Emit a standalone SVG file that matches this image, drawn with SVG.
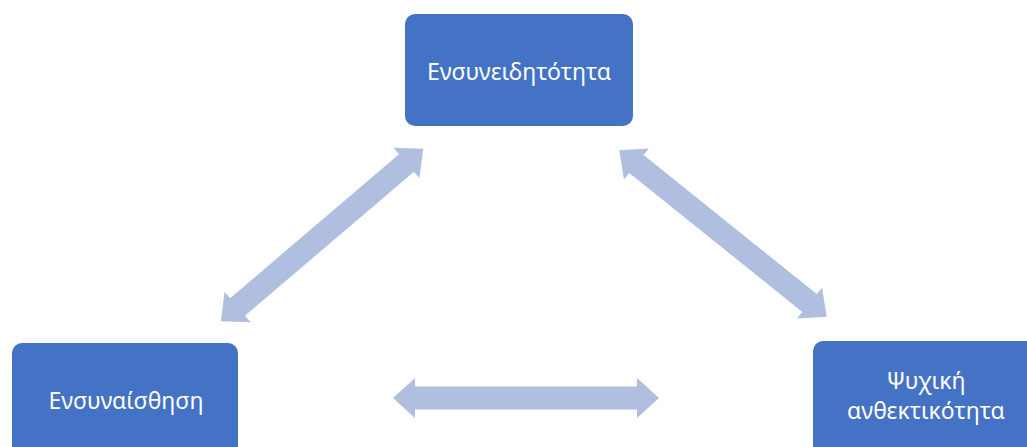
<svg xmlns="http://www.w3.org/2000/svg" width="1027" height="447" viewBox="0 0 1027 447">
<style>
.box{fill:#4472C4;}
.lbl{fill:#ffffff;font-family:"Noto Sans","Open Sans",sans-serif;font-size:23px;text-anchor:middle;}
.arr{fill:#B0BEE0;}
</style>
<defs>
<polygon id="dbl" points="-133,0 -111,-20 -111,-11.5 111,-11.5 111,-20 133,0 111,20 111,11.5 -111,11.5 -111,20"/>
</defs>
<rect width="1027" height="447" fill="#ffffff"/>
<g id="connectors" class="arr">
<use href="#dbl" transform="translate(322,235) rotate(-40.46)"/>
<use href="#dbl" transform="translate(723,233.5) rotate(38.76)"/>
<use href="#dbl" transform="translate(526,398)"/>
</g>
<g id="node-top">
<rect class="box" x="405" y="14" width="228" height="112" rx="10"/>
<text class="lbl" x="519" y="80">Ενσυνειδητότητα</text>
</g>
<g id="node-left">
<rect class="box" x="12" y="343" width="226" height="120" rx="10"/>
<text class="lbl" x="126" y="409">Ενσυναίσθηση</text>
</g>
<g id="node-right">
<rect class="box" x="813" y="341" width="230" height="120" rx="10"/>
<text class="lbl" x="926" y="389">Ψυχική</text>
<text class="lbl" x="926" y="419">ανθεκτικότητα</text>
</g>
</svg>
